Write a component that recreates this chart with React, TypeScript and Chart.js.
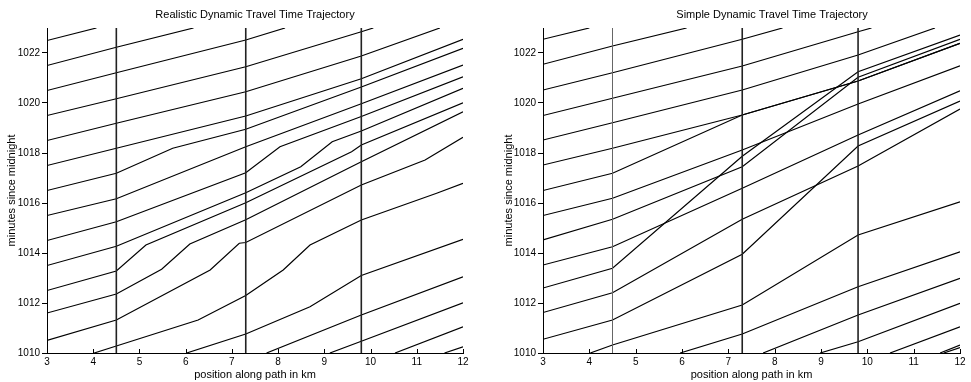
import React, { useEffect, useRef } from 'react';
import { Chart, registerables } from 'chart.js';

Chart.register(...registerables);

// ---- axis ticks & detector positions ----
const xTickValues = [3, 4, 5, 6, 7, 8, 9, 10, 11, 12];
const yTickValues = [1010, 1012, 1014, 1016, 1018, 1020, 1022];
const detectorKm = [4.5, 7.3, 9.8];

// ---- Realistic dynamic travel time trajectories (km / minutes since midnight) ----
const realisticX: number[][] = [
  [3, 4.07],
  [3, 4.5, 6.17],
  [3, 4.5, 7.3, 8.15],
  [3, 4.5, 7.3, 9.8, 10.06],
  [3, 4.5, 7.3, 9.8, 11.5],
  [3, 4.5, 7.3, 9.8, 12],
  [3, 4.5, 5.72, 7.3, 9.8, 12],
  [3, 4.5, 7.3, 9.8, 12],
  [3, 4.5, 7.3, 8.04, 9.8, 12],
  [3, 4.5, 7.3, 8.49, 9.17, 9.8, 12],
  [3, 4.5, 5.14, 7.3, 9.59, 9.8, 12],
  [3, 4.5, 5.48, 6.09, 7.3, 9.8, 12],
  [3, 4.5, 6.53, 7.16, 7.3, 9.8, 11.18, 12],
  [4.02, 4.5, 6.27, 7.3, 8.11, 8.69, 9.8, 11.43, 12],
  [6.02, 7.3, 8.69, 9.8, 12],
  [7.75, 9.8, 12],
  [9.12, 9.8, 12],
  [10.53, 12],
  [11.6, 12],
];
const realisticY: number[][] = [
  [1022.5, 1023],
  [1021.5, 1022.23, 1023],
  [1020.5, 1021.21, 1022.52, 1023],
  [1019.5, 1020.17, 1021.45, 1022.85, 1023],
  [1018.5, 1019.19, 1020.45, 1021.88, 1023],
  [1017.5, 1018.19, 1019.48, 1020.97, 1022.55],
  [1016.5, 1017.19, 1018.19, 1018.95, 1020.64, 1022.19],
  [1015.5, 1016.17, 1018.25, 1019.97, 1021.52],
  [1014.5, 1015.25, 1017.21, 1018.25, 1019.46, 1021.05],
  [1013.5, 1014.27, 1016.41, 1017.45, 1018.45, 1018.88, 1020.59],
  [1012.5, 1013.28, 1014.32, 1016.01, 1018.05, 1018.32, 1020.01],
  [1011.6, 1012.36, 1013.35, 1014.36, 1015.33, 1017.65, 1019.65],
  [1010.5, 1011.32, 1013.32, 1014.39, 1014.42, 1016.72, 1017.72, 1018.63],
  [1010, 1010.28, 1011.32, 1012.3, 1013.32, 1014.32, 1015.32, 1016.39, 1016.79],
  [1010, 1010.76, 1011.85, 1013.1, 1014.55],
  [1010, 1011.52, 1013.05],
  [1010, 1010.47, 1012.01],
  [1010, 1011.05],
  [1010, 1010.25],
];

// ---- Simple dynamic travel time trajectories ----
const simpleX: number[][] = [
  [3, 4.0],
  [3, 4.5, 6.1],
  [3, 4.5, 7.3, 8.17],
  [3, 4.5, 7.3, 9.8, 10.09],
  [3, 4.5, 7.3, 9.8, 11.46],
  [3, 4.5, 7.3, 9.8, 12],
  [3, 4.5, 7.3, 9.8, 12],
  [3, 4.5, 7.3, 9.8, 12],
  [3, 4.5, 7.3, 9.8, 12],
  [3, 4.5, 7.3, 9.8, 12],
  [3, 4.5, 7.3, 9.8, 12],
  [3, 4.5, 7.3, 9.8, 12],
  [3, 4.5, 7.3, 9.8, 12],
  [4.02, 4.5, 7.3, 9.8, 12],
  [5.96, 7.3, 9.8, 12],
  [7.75, 9.8, 12],
  [8.98, 9.8, 12],
  [10.49, 12],
  [11.57, 12],
  [11.65, 12],
];
const simpleY: number[][] = [
  [1022.55, 1023],
  [1021.55, 1022.28, 1023],
  [1020.52, 1021.21, 1022.55, 1023],
  [1019.5, 1020.19, 1021.48, 1022.85, 1023],
  [1018.52, 1019.21, 1020.52, 1021.92, 1023],
  [1017.52, 1018.19, 1019.52, 1020.88, 1022.39],
  [1016.5, 1017.19, 1019.52, 1020.88, 1022.39],
  [1015.5, 1016.19, 1018.12, 1019.96, 1021.49],
  [1014.52, 1015.35, 1017.45, 1021.03, 1022.55],
  [1013.52, 1014.25, 1016.59, 1018.72, 1020.49],
  [1012.6, 1013.39, 1017.87, 1021.25, 1022.72],
  [1011.62, 1012.41, 1015.35, 1017.48, 1019.76],
  [1010.55, 1011.32, 1013.95, 1018.28, 1020.08],
  [1010, 1010.32, 1011.92, 1014.72, 1016.05],
  [1010, 1010.76, 1012.65, 1014.05],
  [1010, 1011.52, 1012.99],
  [1010, 1010.45, 1011.99],
  [1010, 1011.05],
  [1010, 1010.32],
  [1010, 1010.22],
];

const FONT = '"Liberation Sans", Arial, Helvetica, sans-serif';

const panelDecor = {
  id: 'panelDecor',
  afterDraw(chart: any, _args: any, opts: any) {
    const { ctx, chartArea } = chart;
    const xs = chart.scales.x;
    ctx.save();
    ctx.strokeStyle = '#000';
    ctx.lineWidth = 1;
    xTickValues.forEach((v) => {
      const px = Math.round(xs.getPixelForValue(v)) + 0.5;
      ctx.beginPath();
      ctx.moveTo(px, chartArea.bottom);
      ctx.lineTo(px, chartArea.bottom - 4);
      ctx.stroke();
    });
    ctx.fillStyle = '#000';
    ctx.font = '11px ' + FONT;
    ctx.textAlign = 'center';
    ctx.textBaseline = 'middle';
    ctx.fillText(opts.title, opts.titleX, opts.titleY);
    ctx.restore();
  },
};

type PanelProps = {
  title: string;
  titleX: number;
  left: number;
  width: number;
  yWidth: number;
  padRight: number;
  yTitlePad: number;
  xs: number[][];
  ys: number[][];
  detectorWidths: number[];
  detectorColors: string[];
};

function Panel(p: PanelProps) {
  const ref = useRef<HTMLCanvasElement | null>(null);
  useEffect(() => {
    if (!ref.current) return;
    const datasets: any[] = [];
    detectorKm.forEach((d, i) => {
      datasets.push({
        data: [
          { x: d, y: 1010 },
          { x: d, y: 1023 },
        ],
        borderColor: p.detectorColors[i],
        borderWidth: p.detectorWidths[i],
        pointRadius: 0,
        fill: false,
        tension: 0,
      });
    });
    p.xs.forEach((row, i) => {
      datasets.push({
        data: row.map((x, j) => ({ x, y: p.ys[i][j] })),
        borderColor: '#000',
        borderWidth: 1.2,
        pointRadius: 0,
        fill: false,
        tension: 0,
      });
    });
    const chart = new Chart(ref.current, {
      type: 'line',
      data: { datasets },
      plugins: [panelDecor],
      options: {
        animation: false,
        responsive: false,
        maintainAspectRatio: false,
        layout: { padding: { top: 28, right: p.padRight, left: 0, bottom: 0 } },
        plugins: {
          legend: { display: false },
          tooltip: { enabled: false },
          title: { display: false },
          panelDecor: { title: p.title, titleX: p.titleX, titleY: 15 },
        } as any,
        scales: {
          x: {
            type: 'linear',
            min: 3,
            max: 12,
            afterBuildTicks: (s: any) => {
              s.ticks = xTickValues.map((v) => ({ value: v }));
            },
            afterFit: (s: any) => {
              s.height = 29;
            },
            ticks: {
              padding: 3,
              color: '#000',
              autoSkip: false,
              maxRotation: 0,
              font: { family: FONT, size: 10 },
              callback: (v: any) => String(v),
            },
            grid: { display: true, drawOnChartArea: false, drawTicks: false, color: '#000' },
            border: { display: true, color: '#000', width: 1 },
            title: {
              display: true,
              text: 'position along path in km',
              color: '#000',
              font: { family: FONT, size: 11 },
              padding: { top: 0, bottom: 0 },
            },
          },
          y: {
            type: 'linear',
            min: 1010,
            max: 1023,
            afterBuildTicks: (s: any) => {
              s.ticks = yTickValues.map((v) => ({ value: v }));
            },
            afterFit: (s: any) => {
              s.width = p.yWidth;
            },
            ticks: {
              padding: 2,
              color: '#000',
              autoSkip: false,
              font: { family: FONT, size: 10 },
              callback: (v: any) => String(v),
            },
            grid: { display: true, drawOnChartArea: false, drawTicks: true, tickLength: 5, color: '#000' },
            border: { display: true, color: '#000', width: 1 },
            title: {
              display: true,
              text: 'minutes since midnight',
              color: '#000',
              font: { family: FONT, size: 11 },
              padding: { top: p.yTitlePad, bottom: 0 },
            },
          },
        },
      } as any,
    });
    return () => chart.destroy();
  }, []);
  return (
    <canvas
      ref={ref}
      width={p.width}
      height={382}
      style={{ position: 'absolute', left: p.left, top: 0, width: p.width, height: 382 }}
    />
  );
}

export default function App() {
  return (
    <div style={{ position: 'absolute', left: 0, top: 0, width: 971, height: 382, background: '#fff' }}>
      <Panel
        title="Realistic Dynamic Travel Time Trajectory"
        titleX={255}
        left={0}
        width={485}
        yWidth={47}
        padRight={22}
        yTitlePad={5}
        xs={realisticX}
        ys={realisticY}
        detectorWidths={[1.6, 1.6, 1.6]}
        detectorColors={['#222', '#222', '#222']}
      />
      <Panel
        title="Simple Dynamic Travel Time Trajectory"
        titleX={287}
        left={485}
        width={486}
        yWidth={58}
        padRight={11}
        yTitlePad={17}
        xs={simpleX}
        ys={simpleY}
        detectorWidths={[1, 1.6, 1.6]}
        detectorColors={['#666', '#222', '#222']}
      />
    </div>
  );
}
